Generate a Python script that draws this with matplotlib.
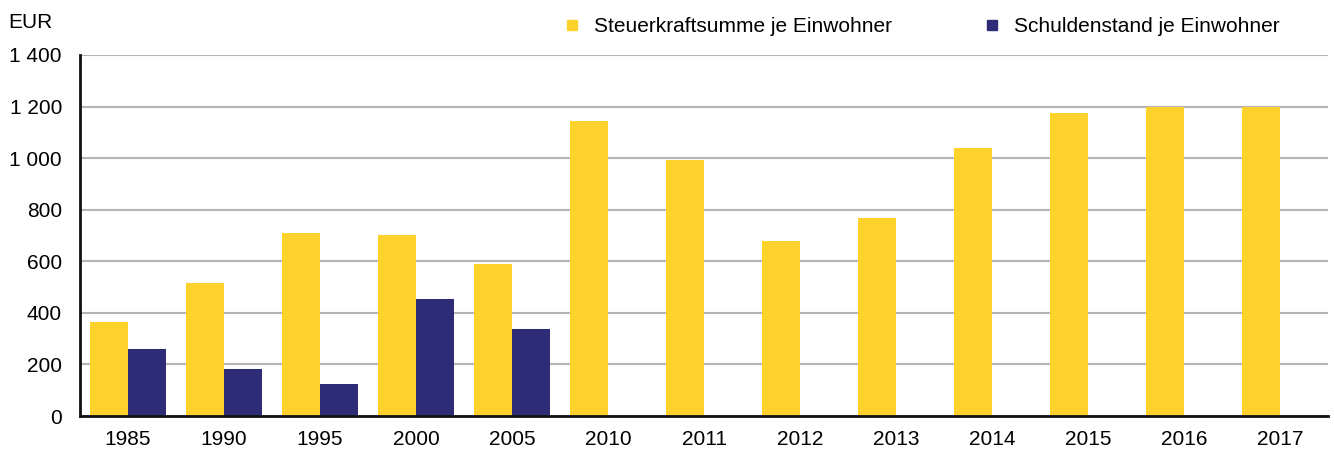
import numpy as np
import matplotlib
matplotlib.use("Agg")
import matplotlib.pyplot as plt
from matplotlib.ticker import FuncFormatter
from matplotlib.lines import Line2D

plt.rcParams['font.family'] = ['Liberation Sans', 'DejaVu Sans']

years = ['1985', '1990', '1995', '2000', '2005', '2010', '2011',
         '2012', '2013', '2014', '2015', '2016', '2017']
steuerkraft = [366, 514, 708, 702, 590, 1144, 993, 679, 767, 1038, 1174, 1197, 1198]
schulden = [259, 182, 125, 454, 336, 0, 0, 0, 0, 0, 0, 0, 0]

YELLOW = '#FDD22C'
NAVY = '#2E2B77'

fig = plt.figure(figsize=(13.34, 4.54), dpi=100)
ax = fig.add_axes([0.06, 0.0837, 0.9355, 0.7952])

x = np.arange(len(years))
w = 0.4
ax.bar(x - w / 2, steuerkraft, width=w, color=YELLOW, zorder=3)
ax.bar(x + w / 2, schulden, width=w, color=NAVY, zorder=3)

ax.set_xlim(-0.5, len(years) - 0.5)
ax.set_ylim(0, 1400)
ax.set_yticks(range(0, 1401, 200))
ax.yaxis.set_major_formatter(FuncFormatter(lambda v, p: f"{v:,.0f}".replace(",", " ")))
ax.set_xticks(x)
ax.set_xticklabels(years)
ax.tick_params(axis='both', length=0, labelsize=15)
ax.tick_params(axis='y', pad=13)
ax.tick_params(axis='x', pad=10)

ax.grid(axis='y', color='#b4b4b4', linewidth=1.5, zorder=0)
for s in ['top', 'right']:
    ax.spines[s].set_visible(False)
for s in ['left', 'bottom']:
    ax.spines[s].set_color('#111111')
    ax.spines[s].set_linewidth(2)
    ax.spines[s].set_zorder(4)

fig.text(8 / 1334, 1 - 22 / 454, 'EUR', fontsize=15, va='center', ha='left')

handles = [
    Line2D([], [], marker='s', linestyle='none', markersize=7, color=YELLOW),
    Line2D([], [], marker='s', linestyle='none', markersize=7, color=NAVY),
]
fig.legend(handles, ['Steuerkraftsumme je Einwohner', 'Schuldenstand je Einwohner'],
           ncol=2, frameon=False, fontsize=15, loc='center right',
           bbox_to_anchor=(1280 / 1334, 1 - 27 / 454),
           handlelength=0.8, handletextpad=0.66, columnspacing=4.4,
           borderpad=0, borderaxespad=0)

fig.savefig('out.png', dpi=100, facecolor='white')
